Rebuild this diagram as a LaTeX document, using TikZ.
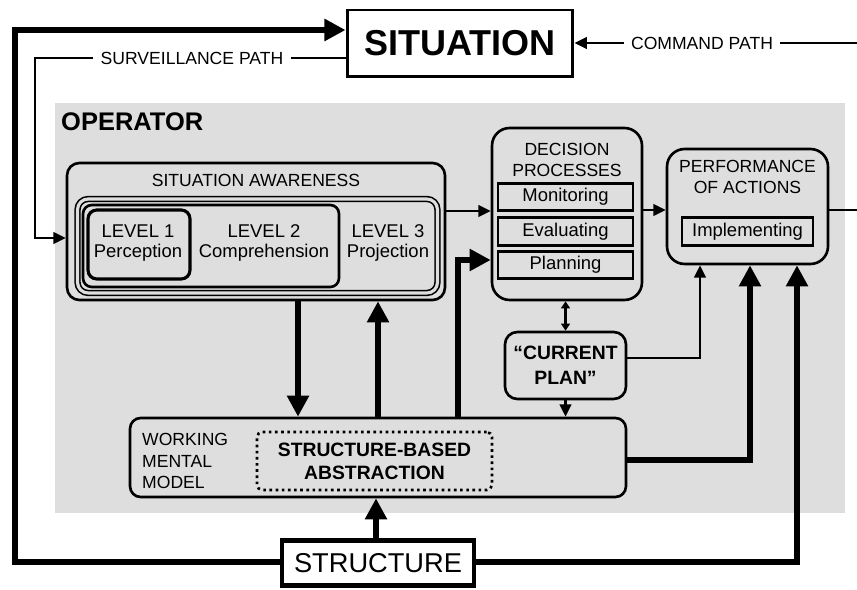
\documentclass[tikz,border=0pt]{standalone}
\usepackage{fontspec}
\setmainfont{Liberation Sans}
\usetikzlibrary{arrows.meta}
\definecolor{opgray}{HTML}{DEDEDE}
\tikzset{
  box/.style={draw, line width=1.5pt, rounded corners=7pt},
  subbox/.style={draw, line width=1.6pt, minimum width=2.7cm, minimum height=0.55cm, inner sep=0pt, font=\fontsize{10.5}{12}\selectfont},
  lvl/.style={align=center, font=\fontsize{10.5}{11.5}\selectfont},
  ttl/.style={align=center, font=\fontsize{10}{11.8}\selectfont},
  pathlabel/.style={fill=white, inner xsep=4pt, font=\fontsize{10}{12}\selectfont},
  bigarrow/.style={line width=3pt, -{Triangle[length=12pt,width=12pt]}},
  smallarrow/.style={line width=1.5pt, -{Triangle[length=7pt,width=6.5pt]}},
}

\begin{document}
\begin{tikzpicture}[x=0.02cm, y=-0.02cm]
\useasboundingbox (0,0) rectangle (857,590);

% operator background
\fill[opgray] (55,103) rectangle (845,513);
\node[anchor=west, font=\fontsize{14.5}{17}\selectfont\bfseries] (op) at (55,122) {OPERATOR};

\node[draw, line width=1.7pt, minimum width=4.52cm, minimum height=1.34cm, font=\fontsize{20.5}{24}\selectfont\bfseries] (sit) at (460,43.5) {SITUATION};
\node[draw, line width=2.6pt, minimum width=3.84cm, minimum height=0.9cm, font=\fontsize{15.5}{18}\selectfont] (struct) at (378,563) {STRUCTURE};

% situation awareness
\node[box, minimum width=7.56cm, minimum height=2.74cm] (sa) at (256,231.5) {};
\node[ttl] (satitle) at (256,180) {SITUATION AWARENESS};
\node[box, rounded corners=6pt, line width=0.9pt, double=opgray, double distance=1.8pt, minimum width=7.2cm, minimum height=1.88cm] (lev3) at (257.5,246) {};
\node[box, rounded corners=5pt, minimum width=5.12cm, minimum height=1.64cm] (lev2) at (211,246) {};
\node[box, rounded corners=5pt, line width=1.8pt, minimum width=2.04cm, minimum height=1.38cm] (lev1) at (139,244.5) {};
\node[lvl] (lev1txt) at (138,243) {LEVEL 1\\Perception};
\node[lvl] (lev2txt) at (264,243) {LEVEL 2\\Comprehension};
\node[lvl] (lev3txt) at (388,243) {LEVEL 3\\Projection};

% decision processes
\node[box, rounded corners=10pt, minimum width=3cm, minimum height=3.44cm] (dec) at (567,214) {};
\node[ttl] (dectitle) at (567,160) {DECISION\\PROCESSES};
\node[subbox] (mon) at (565.5,197) {Monitoring};
\node[subbox] (eval) at (565.5,231.5) {Evaluating};
\node[subbox] (planning) at (565.5,265) {Planning};

% performance of actions
\node[box, rounded corners=10pt, minimum width=3.22cm, minimum height=2.3cm] (perf) at (747.5,206.5) {};
\node[ttl] (perftitle) at (747.5,177) {PERFORMANCE\\OF ACTIONS};
\node[subbox, minimum width=2.62cm] (impl) at (747.5,231.5) {Implementing};

\node[box, rounded corners=7pt, minimum width=2.42cm, minimum height=1.34cm, align=center, font=\fontsize{11}{14}\selectfont\bfseries] (curplan) at (565.5,365.5) {“CURRENT\\PLAN”};

% working mental model
\node[box, rounded corners=6pt, minimum width=9.92cm, minimum height=1.58cm] (wmm) at (378,457.5) {};
\node[anchor=west, align=left, font=\fontsize{10}{12.2}\selectfont] (wmmtxt) at (136,461) {WORKING\\MENTAL\\MODEL};
\node[draw, dotted, line width=1.5pt, rounded corners=3pt, minimum width=4.7cm, minimum height=1.16cm, align=center, font=\fontsize{11}{13}\selectfont\bfseries] (sba) at (374.5,461) {STRUCTURE-BASED\\ABSTRACTION};

% paths outside
\node[pathlabel] (surv) at (192,58) {SURVEILLANCE PATH};
\node[pathlabel] (cmd) at (702,43) {COMMAND PATH};
\coordinate (cmdin) at (857,43);
\coordinate (actout) at (857,210);

\draw[bigarrow] (struct.west |- 0,562) -| (15,30) -- (sit.west |- 15,30);
\draw[bigarrow] (struct.east |- 0,562) -| (perf.south -| 797,0);
\draw[line width=1.5pt] (sit.west |- surv) -- (surv.east);
\draw[smallarrow] (surv.west) -| (35,238) -- (sa.west |- 35,238);
\draw[line width=1.5pt] (cmdin) -- (cmd.east);
\draw[smallarrow] (cmd.west) -- (sit.east |- cmd);

% connectors inside
\draw[smallarrow] (sa.east |- 0,211) -- (dec.west |- 0,211);
\draw[smallarrow] (dec.east |- 0,210) -- (perf.west |- 0,210);
\draw[line width=1.5pt] (perf.east |- actout) -- (actout);
\draw[bigarrow] (sa.south -| 298,0) -- (wmm.north -| 298,0);
\draw[bigarrow] (wmm.north -| 378,0) -- (sa.south -| 378,0);
\draw[bigarrow] (wmm.north -| 458,0) |- (dec.west |- 0,260);
\draw[line width=1.2pt, {Triangle[length=4pt,width=5pt]}-{Triangle[length=4pt,width=5pt]}] (dec.south -| curplan.north) -- (curplan.north);
\draw[smallarrow] (curplan.east |- 0,358) -| (perf.south -| 700,0);
\draw[smallarrow] (curplan.south) -- (curplan.south |- wmm.north);
\draw[bigarrow] (wmm.east |- 0,460) -| (perf.south -| 750,0);
\draw[bigarrow] (struct.north -| 376,0) -- (wmm.south -| 376,0);
\end{tikzpicture}
\end{document}
